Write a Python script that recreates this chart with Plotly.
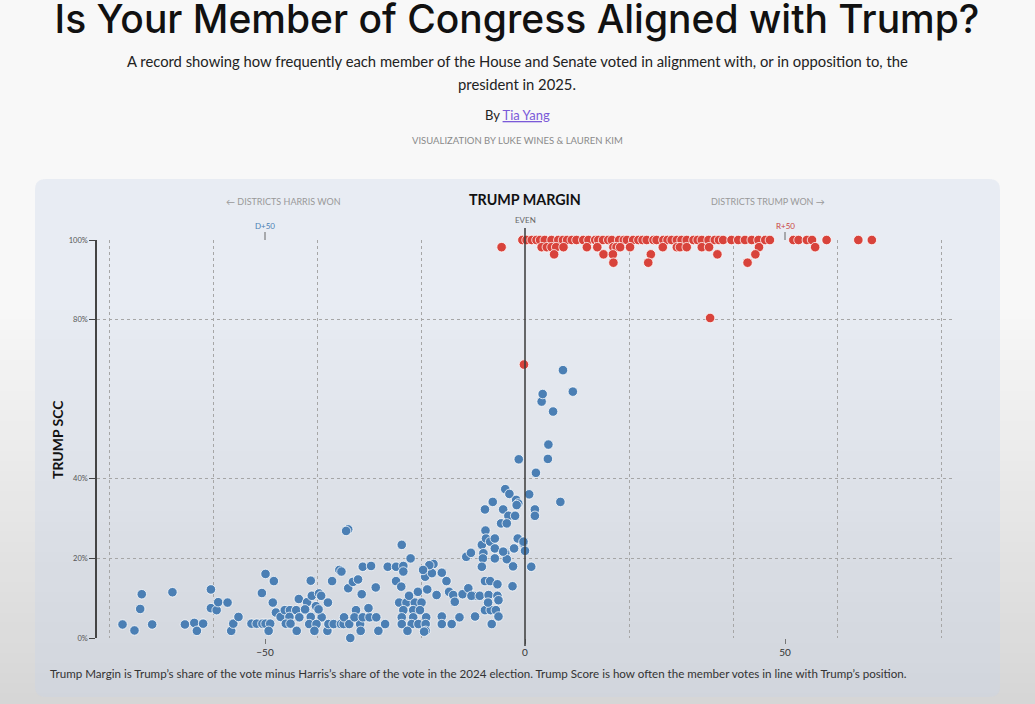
import plotly.graph_objects as go

W, H = 1035, 704

# ---------------- data ----------------
dem_points = [
    (-77.4, 3.4), (-75.1, 1.9), (-73.7, 11.0), (-74.0, 7.3), (-71.7, 3.4), (-67.8, 11.5),
    (-65.4, 3.4), (-63.6, 3.8), (-63.1, 1.8), (-61.9, 3.6), (-60.4, 12.2), (-60.4, 7.5),
    (-59.3, 7.0), (-59.0, 9.0), (-57.2, 8.9), (-56.5, 1.8), (-56.1, 3.6), (-55.1, 5.3),
    (-52.6, 3.6), (-51.6, 3.6), (-50.5, 3.6), (-49.9, 3.6), (-49.0, 3.6), (-49.3, 1.8),
    (-49.9, 16.1), (-48.3, 14.3), (-50.6, 11.3), (-48.5, 8.9), (-47.9, 6.4), (-47.0, 5.3),
    (-46.2, 7.0), (-45.2, 7.0), (-44.0, 7.0), (-45.3, 5.3), (-46.0, 3.6), (-45.1, 3.6),
    (-43.9, 1.8), (-43.5, 9.8), (-43.4, 5.2),
    (-42.2, 7.0), (-41.9, 9.0), (-41.2, 14.4), (-41.0, 10.6), (-40.2, 8.0), (-39.6, 11.2),
    (-39.2, 10.6), (-37.9, 8.9), (-41.2, 5.3), (-39.1, 5.2), (-41.5, 3.5), (-40.1, 3.5),
    (-40.5, 1.8), (-38.0, 1.8), (-37.1, 14.3), (-37.8, 3.5), (-36.8, 3.5), (-35.4, 3.5),
    (-34.9, 3.5), (-35.7, 17.1), (-35.3, 16.7), (-34.8, 5.2), (-33.6, 0.0), (-34.0, 12.5),
    (-33.1, 14.1), (-32.1, 14.7), (-32.5, 7.0), (-31.4, 11.0), (-31.2, 17.9), (-29.6, 18.1),
    (-31.7, 3.5), (-33.8, 3.5), (-31.6, 1.8), (-32.8, 5.2), (-31.2, 5.2), (-29.9, 5.2),
    (-28.6, 5.2), (-30.1, 7.5), (-28.7, 12.7), (-28.2, 1.8), (-26.9, 3.5), (-34.0, 27.3),
    (-34.4, 26.9), (-42.3, 7.2), (-39.7, 7.2),
    (-26.4, 17.9), (-24.8, 17.9), (-23.4, 18.1), (-23.7, 23.4), (-23.4, 16.7), (-22.0, 20.0),
    (-24.8, 14.3), (-23.8, 12.9), (-24.2, 8.9), (-22.8, 8.9), (-21.2, 8.9), (-19.9, 8.9),
    (-22.3, 10.6), (-20.6, 11.6), (-23.4, 7.0), (-21.5, 7.0), (-20.2, 7.0), (-23.7, 5.2),
    (-21.5, 5.2), (-19.0, 5.2), (-23.7, 3.5), (-21.8, 3.5), (-20.5, 3.5), (-19.1, 3.5),
    (-22.6, 1.8), (-19.1, 1.8), (-19.2, 15.4), (-17.6, 18.6), (-17.9, 16.3), (-18.4, 18.3),
    (-19.6, 17.1), (-18.8, 12.2), (-17.0, 10.8), (-19.4, 1.6),
    (-16.0, 16.4), (-15.1, 14.3), (-14.6, 11.6), (-13.8, 10.8), (-13.5, 9.1), (-16.0, 5.4),
    (-16.0, 3.5), (-14.1, 3.5), (-12.6, 5.2), (-12.0, 11.0), (-10.9, 12.5), (-9.9, 10.6),
    (-10.3, 10.6), (-8.7, 10.6), (-11.3, 20.4), (-10.4, 21.4), (-9.6, 5.4), (-8.3, 23.4),
    (-8.0, 21.3), (-8.1, 20.0), (-8.3, 17.9), (-7.7, 14.3), (-6.7, 14.3), (-5.3, 13.5),
    (-7.0, 10.8), (-7.7, 7.0), (-6.6, 7.0), (-5.6, 7.0), (-5.3, 10.6), (-5.1, 9.5),
    (-7.1, 8.9), (-6.4, 3.5), (-5.1, 5.4), (-5.8, 20.0), (-3.8, 21.3), (-3.5, 19.8),
    (-2.4, 13.0), (-2.3, 18.0), (-2.1, 22.5), (-0.3, 23.8), (0.0, 21.9), (1.2, 17.9),
    (-3.8, 37.4), (-3.0, 36.2), (-1.7, 34.7), (-1.3, 33.8), (-1.6, 33.4), (-6.2, 34.2),
    (-7.7, 32.3), (-4.2, 32.3), (-3.2, 30.7), (-1.9, 30.7), (-4.6, 28.8), (-3.5, 28.8),
    (-7.6, 27.0), (-7.5, 25.0), (-6.7, 24.2), (-5.8, 25.0), (-5.8, 22.5), (-4.2, 21.7),
    (-1.4, 25.0), (-0.3, 24.2),
    (0.8, 36.1), (1.9, 32.3), (1.9, 30.7), (2.1, 41.5), (-1.2, 44.9), (4.4, 45.0),
    (4.5, 48.6), (5.4, 56.9), (3.2, 59.4), (3.4, 61.3), (7.3, 67.3), (9.2, 61.9), (6.8, 34.2),
]
dem_margin = [p[0] for p in dem_points]
dem_score = [p[1] for p in dem_points]

rep_row100 = [-0.5, 0.3, 1.3, 2.2, 2.9, 3.8, 5.1, 6.4, 7.3, 8.1, 9.0, 9.9, 11.2, 12.2, 13.5,
              14.1, 15.0, 16.0, 16.7, 18.1, 19.0, 19.6, 20.8, 21.8, 22.6, 23.4, 24.7, 25.3,
              26.6, 27.4, 28.2, 29.2, 30.1, 31.1, 32.4, 33.2, 34.0, 35.3, 36.5, 37.3, 38.1,
              39.7, 41.0, 42.3, 43.6, 44.9, 46.2, 47.1, 51.6, 52.6, 54.2, 55.2, 58.0, 64.1, 66.7]
rep_row98 = [-4.5, 3.2, 4.2, 5.1, 6.0, 7.4, 11.9, 13.9, 17.0, 17.6, 18.3, 20.2, 26.5, 29.2,
             29.8, 31.1, 34.0, 35.4, 45.0, 55.8]
rep_row96 = [5.6, 15.1, 16.9, 24.2, 37.0, 44.3]
rep_row94 = [17.0, 23.7, 42.8]
rep_other = [(35.6, 80.4), (-0.2, 68.7)]

rep_margin = rep_row100 + rep_row98 + rep_row96 + rep_row94 + [p[0] for p in rep_other]
rep_score = ([100.0] * len(rep_row100) + [98.2] * len(rep_row98) + [96.4] * len(rep_row96)
             + [94.3] * len(rep_row94) + [p[1] for p in rep_other])

x_ticks = [-50, 0, 50]
x_tick_text = ["−50", "0", "50"]
x_grid = [-80, -60, -40, -20, 20, 40, 60, 80]
y_ticks = [0, 20, 40, 80, 100]
y_tick_text = ["0%", "20%", "40%", "80%", "100%"]

# ---------------- layout helpers (screen pixels -> paper) ----------------
def px(x):
    return x / W

def py(y):
    return 1 - y / H

BLUE = "#4b7fb4"
RED = "#d8433b"

fig = go.Figure()
fig.add_trace(go.Scatter(
    x=dem_margin, y=dem_score, mode="markers", cliponaxis=False, name="Democrats",
    marker=dict(size=9.5, color=BLUE, line=dict(color="rgba(255,255,255,0.85)", width=0.9)),
))
fig.add_trace(go.Scatter(
    x=rep_margin, y=rep_score, mode="markers", cliponaxis=False, name="Republicans",
    marker=dict(size=9.5, color=RED, line=dict(color="rgba(255,255,255,0.85)", width=0.9)),
))

shapes = []
# page background gradient
top_c = (248, 248, 248)
bot_c = (214, 214, 214)
n = 40
y0 = 300
for i in range(n):
    ya = y0 + (H - y0) * i / n
    yb = y0 + (H - y0) * (i + 1) / n
    t = (i + 0.5) / n
    c = tuple(int(round(top_c[k] + (bot_c[k] - top_c[k]) * t)) for k in range(3))
    shapes.append(dict(type="rect", xref="paper", yref="paper", x0=0, x1=1,
                       y0=py(yb) - 0.002, y1=py(ya) + 0.001, layer="below",
                       fillcolor="rgb(%d,%d,%d)" % c, line=dict(width=0)))

# card (rounded rect)
cx0, cx1, cy0, cy1, r = 35, 1000, 179, 697, 11
path = (f"M {px(cx0 + r)},{py(cy0)} L {px(cx1 - r)},{py(cy0)} "
        f"Q {px(cx1)},{py(cy0)} {px(cx1)},{py(cy0 + r)} "
        f"L {px(cx1)},{py(cy1 - r)} Q {px(cx1)},{py(cy1)} {px(cx1 - r)},{py(cy1)} "
        f"L {px(cx0 + r)},{py(cy1)} Q {px(cx0)},{py(cy1)} {px(cx0)},{py(cy1 - r)} "
        f"L {px(cx0)},{py(cy0 + r)} Q {px(cx0)},{py(cy0)} {px(cx0 + r)},{py(cy0)} Z")
shapes.append(dict(type="path", path=path, xref="paper", yref="paper", layer="below",
                   fillcolor="rgba(200,210,232,0.32)", line=dict(width=0)))

# zero ("EVEN") line
shapes.append(dict(type="line", xref="x", yref="paper", x0=0, x1=0,
                   y0=py(646), y1=py(228), line=dict(color="#3a3a3a", width=1.5)))
# D+50 / R+50 small ticks
for xv in (-50, 50):
    shapes.append(dict(type="line", xref="x", yref="paper", x0=xv, x1=xv,
                       y0=py(240), y1=py(232), line=dict(color="#666", width=1)))

ann = []
FONT = "Lato"
def text(x, y, s, size, color="#222", xanchor="center", **kw):
    ann.append(dict(x=px(x), y=py(y), xref="paper", yref="paper", text=s, showarrow=False,
                    xanchor=xanchor, yanchor="middle",
                    font=dict(family=kw.pop("family", FONT), size=size, color=color,
                              weight=kw.pop("weight", 400)), **kw))

text(517, 61, "A record showing how frequently each member of the House and Senate voted in alignment with, or in opposition to, the", 14.8, "#222")
text(517, 84, "president in 2025.", 14.8, "#222")
text(517, 115, "By <span style='color:#7a5ad8'><u>Tia Yang</u></span>", 13, "#222")
text(517, 140, "VISUALIZATION BY LUKE WINES &amp; LAUREN KIM", 9.5, "#8a8a8a")

text(525, 199, "TRUMP MARGIN", 14.3, "#111", weight=700)
text(283, 201, "← DISTRICTS HARRIS WON", 9, "#999")
text(768, 201, "DISTRICTS TRUMP WON →", 9, "#999")
text(525, 220, "EVEN", 8, "#666")
text(265, 226, "D+50", 8, "#4b7fb4")
text(785, 226, "R+50", 8, "#c8463e")
text(57, 440, "TRUMP SCC", 14, "#111", weight=700, textangle=-90)
text(48, 673, "Trump Margin is Trump’s share of the vote minus Harris’s share of the vote in the 2024 election. Trump Score is how often the member votes in line with Trump’s position.",
     11.6, "#333", xanchor="left")

# axes ranges: pixel 97 -> left, 952 -> right ; 0 at 638, 100 at 240
k = 5.2
x_lo = (97 - 525) / k
x_hi = (952 - 525) / k

fig.update_layout(
    width=W, height=H, margin=dict(l=0, r=0, t=0, b=0, autoexpand=False),
    paper_bgcolor="#f8f8f8", plot_bgcolor="rgba(0,0,0,0)",
    showlegend=False, shapes=shapes, annotations=ann,
    font=dict(family=FONT),
    title=dict(text="Is Your Member of Congress Aligned with Trump?", x=517 / W, xanchor="center",
               xref="paper", y=1 - 19 / H, yanchor="middle", yref="container",
               font=dict(family="Inter", size=39, color="#111", weight=500)),
    xaxis=dict(domain=[px(97), px(952)], range=[x_lo, x_hi], tickvals=x_ticks,
               ticktext=x_tick_text, showgrid=False, zeroline=False, showline=False,
               ticks="outside", ticklen=5, tickcolor="#777", ticklabelstandoff=0,
               tickfont=dict(size=10, color="#333", family=FONT),
               minor=dict(tickvals=x_grid, showgrid=True, gridcolor="#a6a6a6",
                          griddash="dot", gridwidth=1, ticks=""),
               fixedrange=True),
    yaxis=dict(domain=[py(638), py(240)], range=[0, 100], tickvals=y_ticks,
               ticktext=y_tick_text, showgrid=True, gridcolor="#a6a6a6", griddash="dot",
               gridwidth=1, zeroline=False, showline=True, linecolor="#444", linewidth=1.5,
               ticks="outside", ticklen=6, tickcolor="#444",
               tickfont=dict(size=7.5, color="#555", family=FONT), fixedrange=True),
)

fig.write_html(
    "out.html",
    config={"displayModeBar": False},
    post_script="document.body.style.margin='0px';document.body.style.background='#d7d7d7';document.body.style.overflow='hidden';",
)
